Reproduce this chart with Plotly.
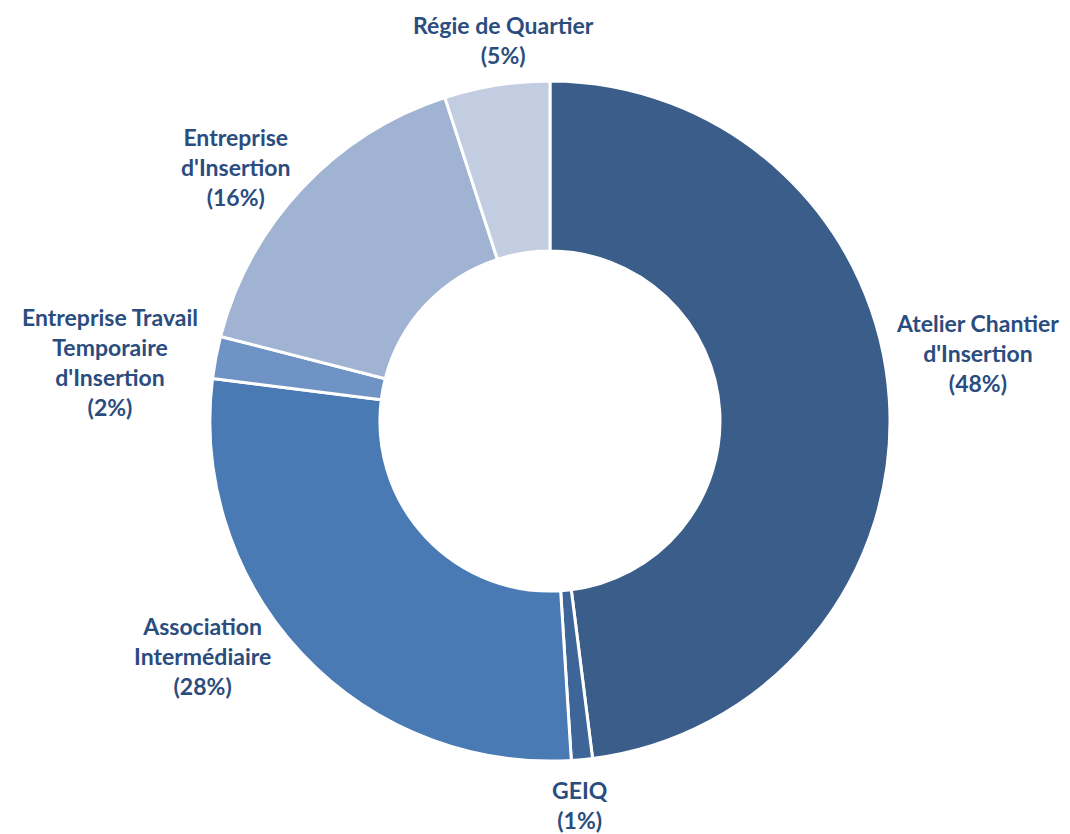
import plotly.graph_objects as go

# slices, clockwise from 12 o'clock
labels = [
    "Atelier Chantier d'Insertion",
    "GEIQ",
    "Association Intermédiaire",
    "Entreprise Travail Temporaire d'Insertion",
    "Entreprise d'Insertion",
    "Régie de Quartier",
]
label_lines = [
    "Atelier Chantier<br>d'Insertion",
    "GEIQ",
    "Association<br>Intermédiaire",
    "Entreprise Travail<br>Temporaire<br>d'Insertion",
    "Entreprise<br>d'Insertion",
    "Régie de Quartier",
]
shares = [48, 1, 28, 2, 16, 5]
colors = ["#3A5D8A", "#3D6598", "#4A7AB4", "#7093C6", "#A1B3D3", "#C2CDE2"]

# where each data label sits on the page (paper fraction), same order as labels
label_pos = [
    (977 / 1070, 1 - 345 / 834),
    (580 / 1070, 1 - 797 / 834),
    (202 / 1070, 1 - 648 / 834),
    (110 / 1070, 1 - 354 / 834),
    (236 / 1070, 1 - 159 / 834),
    (503 / 1070, 1 - 32 / 834),
]

fig = go.Figure(go.Pie(
    labels=labels,
    values=shares,
    textinfo="none",
    hole=0.5,
    sort=False,
    direction="clockwise",
    rotation=0,
    marker=dict(colors=colors, line=dict(color="white", width=3)),
    domain=dict(x=[0.1885, 0.8245], y=[0.097, 0.9125]),
    showlegend=False,
))

for name, v, (x, y) in zip(label_lines, shares, label_pos):
    bold = "<br>".join(f"<b>{part}</b>" for part in f"{name}<br>({v}%)".split("<br>"))
    fig.add_annotation(
        x=x, y=y, xref="paper", yref="paper",
        text=bold,
        showarrow=False,
        xanchor="center", yanchor="middle", align="center",
        xshift=-8,
        font=dict(family="Lato, 'Open Sans', sans-serif", size=23, color="#2B4D7E"),
    )

fig.update_layout(
    width=1070,
    height=834,
    margin=dict(l=0, r=0, t=0, b=0),
    paper_bgcolor="white",
    plot_bgcolor="white",
)

fig.write_html("out.html")
